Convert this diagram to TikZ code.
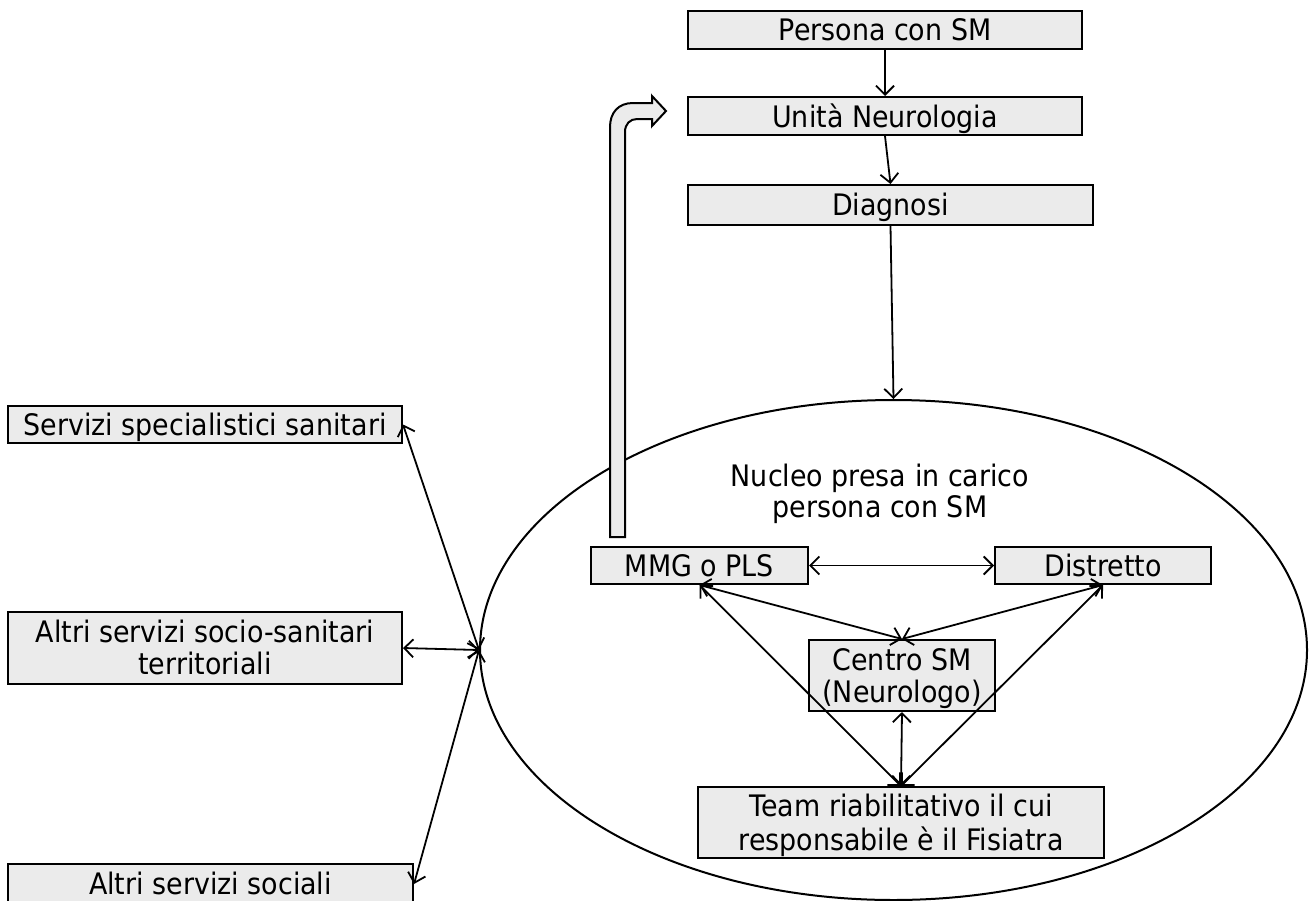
\documentclass[tikz,border=0pt]{standalone}
\usepackage{fontspec}
\usepackage{graphicx}
\setmainfont{DejaVu Sans}
\usetikzlibrary{arrows.meta,shapes.geometric}
\definecolor{boxfill}{HTML}{EBEBEB}
\newcommand\btext[1]{\raisebox{-4.5pt}[\height][\depth]{\scalebox{1}[1.1]{\begin{tabular}{@{}c@{}}#1\end{tabular}}}}
\begin{document}
\begin{tikzpicture}[x=1pt,y=-1pt,
  every node/.style={font=\fontsize{26.9}{29}\selectfont},
  box/.style={draw=black, line width=2pt, fill=boxfill, inner sep=0pt, minimum width=#1},
  conn/.style={line width=1.8pt},
  >={Straight Barb[length=9pt,width=18pt,line width=1.8pt]}]
\useasboundingbox (0,0) rectangle (1309,900);
\clip (0,0) rectangle (1309,900);

% ellipse
\node[ellipse, draw=black, line width=2pt, minimum width=827pt, minimum height=500pt, inner sep=0pt] (nucleo) at (893.5,650) {};
\node[inner sep=0pt] (nucleotxt) at (880,491) {\btext{Nucleo presa in carico\\persona con SM}};

% boxes
\node[box=394pt, minimum height=38pt] (persona) at (885,30) {\btext{Persona con SM}};
\node[box=394pt, minimum height=38pt] (unita) at (885,116) {\btext{Unità Neurologia}};
\node[box=405pt, minimum height=40pt] (diagnosi) at (890.5,205) {\btext{Diagnosi}};
\node[box=217pt, minimum height=37pt] (mmg) at (699.5,565.5) {\btext{MMG o PLS}};
\node[box=216pt, minimum height=37pt] (distretto) at (1103,565.5) {\btext{Distretto}};
\node[box=186pt, minimum height=71pt] (centro) at (902,675.5) {\btext{Centro SM\\(Neurologo)}};
\node[box=406pt, minimum height=71pt] (team) at (901,822.5) {\btext{Team riabilitativo il cui\\responsabile è il Fisiatra}};
\node[box=394pt, minimum height=37pt] (servspec) at (205,424.5) {\btext{Servizi specialistici sanitari}};
\node[box=394pt, minimum height=72pt] (altrisoc) at (205,648) {\btext{Altri servizi socio-sanitari\\territoriali}};
\node[box=405pt, minimum height=40pt] (sociali) at (210.5,884) {\btext{Altri servizi sociali}};

% fat bent arrow
\draw[line width=2pt, fill=boxfill, line join=miter]
  (610,537) -- (610,127) .. controls (610,113) and (618,103) .. (633,103) -- (652,103) -- (652,96) -- (666,111)
  -- (652,126) -- (652,119) -- (637,119) .. controls (630,119) and (625,124) .. (625,132) -- (625,537) -- cycle;

% connectors
\draw[conn,->] (persona.south) -- (unita.north);
\draw[conn,->] (unita.south) -- (diagnosi.north);
\draw[conn,->] (diagnosi.south) -- (nucleo.north);
\draw[conn,<->] (mmg.east) -- (distretto.west);
\draw[conn,<->] (mmg.south) -- (centro.north);
\draw[conn,<->] (distretto.south) -- (centro.north);
\draw[conn,<->] (mmg.south) -- (team.north);
\draw[conn,<->] (distretto.south) -- (team.north);
\draw[conn,<->] (centro.south) -- (team.north);
\draw[conn,<->] (servspec.east) -- (nucleo.west);
\draw[conn,<->] (altrisoc.east) -- (nucleo.west);
\draw[conn,<->] (sociali.east) -- (nucleo.west);
\end{tikzpicture}
\end{document}
